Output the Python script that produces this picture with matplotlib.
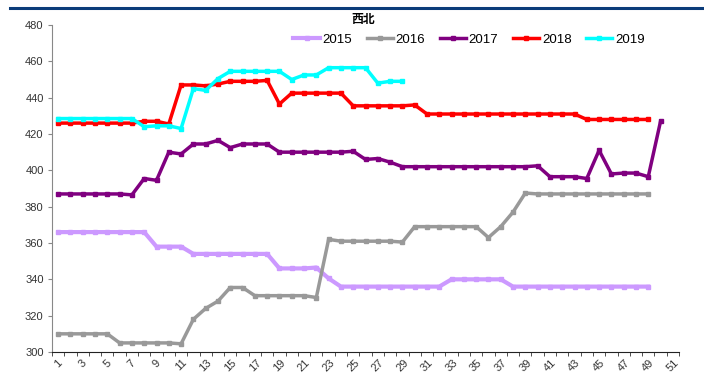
import numpy as np
import matplotlib
matplotlib.use('Agg')
import matplotlib.pyplot as plt
from matplotlib.lines import Line2D

plt.rcParams['font.family'] = ['Liberation Sans Narrow', 'Liberation Sans', 'Noto Sans CJK SC', 'DejaVu Sans']

weeks = list(range(1, 52))

y2015 = [366, 366, 366, 366, 366, 366, 366, 366, 358, 358, 358, 354, 354, 354, 354, 354, 354, 354,
         346, 346, 346, 346.5, 340.5, 336, 336, 336, 336, 336, 336, 336, 336, 336, 340, 340, 340, 340, 340,
         336, 336, 336, 336, 336, 336, 336, 336, 336, 336, 336, 336]
y2016 = [310, 310, 310, 310, 310, 305, 305, 305, 305, 305, 304.5, 318, 324, 328, 335.5, 335.5, 331, 331,
         331, 331, 331, 330, 362, 361, 361, 361, 361, 361, 360.5, 369, 369, 369, 369, 369, 369, 363, 369,
         377, 387.5, 387, 387, 387, 387, 387, 387, 387, 387, 387, 387]
y2017 = [387, 387, 387, 387, 387, 387, 386.5, 395.5, 394.5, 410, 409, 414.5, 414.5, 416.5, 412.5, 414.5,
         414.5, 414.5, 410, 410, 410, 410, 410, 410, 410.5, 406, 406.5, 404.5, 402, 402, 402, 402, 402, 402,
         402, 402, 402, 402, 402, 402.5, 396.5, 396.5, 396.5, 395.5, 411, 398, 398.5, 398.5, 396.5, 427]
y2018 = [426, 426, 426, 426, 426, 426, 426, 427, 427, 425.5, 447, 447, 446.5, 447.5, 449, 449, 449, 449.5,
         436.5, 442.5, 442.5, 442.5, 442.5, 442.5, 435.5, 435.5, 435.5, 435.5, 435.5, 436, 431, 431, 431,
         431, 431, 431, 431, 431, 431, 431, 431, 431, 431, 428, 428, 428, 428, 428, 428]
y2019 = [428.5, 428.5, 428.5, 428.5, 428.5, 428.5, 428.5, 424, 424.5, 424.5, 423, 445, 444, 450.5, 454.5,
         454.5, 454.5, 454.5, 454.5, 450, 452.5, 452.5, 456.5, 456.5, 456.5, 456.5, 448, 449, 449]

series = [('2015', y2015, '#CC99FF', 3.0),
          ('2016', y2016, '#999999', 2.5),
          ('2017', y2017, '#800080', 2.5),
          ('2018', y2018, '#FF0000', 2.5),
          ('2019', y2019, '#00FFFF', 2.5)]

fig = plt.figure(figsize=(7.04, 3.79), dpi=100)
ax = fig.add_axes([52 / 704, 1 - 352 / 379, 627 / 704, 327 / 379])

for name, vals, col, lw in series:
    x = np.arange(1, len(vals) + 1)
    ax.plot(x, vals, color=col, lw=lw, marker='s', ms=2.6, label=name, solid_joinstyle='round')

ax.set_xlim(0.5, 51.5)
ax.set_ylim(300, 480)
ax.set_yticks(np.arange(300, 481, 20))
ax.set_xticks(weeks[::2])
ax.set_xticklabels([str(w) for w in weeks[::2]], rotation=45, ha='center', fontsize=8, color='#333333')
ax.set_xticks(np.arange(0.5, 52, 1), minor=True)
ax.tick_params(axis='x', which='major', length=0, pad=4)
ax.tick_params(axis='x', which='minor', length=3, direction='out', color='#333333')
ax.tick_params(axis='y', length=3, labelsize=8, colors='#888888', labelcolor='#333333', pad=3)

for s in ['top', 'right']:
    ax.spines[s].set_visible(False)
ax.spines['left'].set_color('#888888')
ax.spines['bottom'].set_color('#222222')

ax.legend(loc='center', bbox_to_anchor=(469 / 704, 1 - 40 / 379), bbox_transform=fig.transFigure,
          ncol=5, frameon=False, fontsize=9.5, handlelength=2.0, columnspacing=1.1, handletextpad=0.2)

fig.text(363 / 704, 1 - 20 / 379, '西北', ha='center', va='center', fontsize=8.5, fontweight='bold',
         family=['Noto Sans CJK SC', 'DejaVu Sans'])

fig.add_artist(Line2D([10 / 704, 1], [1 - 8 / 379, 1 - 8 / 379], transform=fig.transFigure,
                      color='#0B3C7A', lw=2.2))

fig.savefig('out.png', dpi=100)
